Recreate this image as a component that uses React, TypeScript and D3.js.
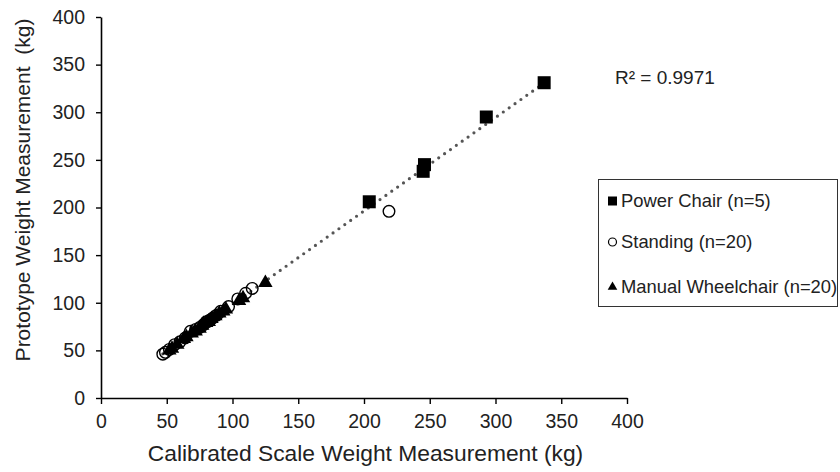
import React, { useEffect, useRef } from 'react';
import * as d3 from 'd3';

// Power Chair (n=5)
const powerX = [204, 245, 246, 293, 337];
const powerY = [206, 238, 245, 295, 331];

// Standing (n=20)
const standX = [47, 49, 52, 56, 60, 64, 68, 72, 75, 78, 80, 83, 85, 88, 91, 97, 104, 110, 115, 219];
const standY = [46, 48, 51, 56, 59, 63, 70, 72, 74, 77, 80, 82, 84, 87, 91, 96, 104, 110, 115, 196];

// Manual Wheelchair (n=20)
const manX = [52, 54, 58, 63, 65, 69, 72, 75, 77, 78, 80, 82, 84, 87, 90, 93, 95, 105, 108, 125];
const manY = [50, 52, 56, 62, 64, 68, 70, 73, 76, 78, 79, 80, 83, 86, 89, 91, 93, 102, 105, 121];

const xTicks = [0, 50, 100, 150, 200, 250, 300, 350, 400];
const yTicks = [0, 50, 100, 150, 200, 250, 300, 350, 400];

const legendLabels = ['Power Chair (n=5)', 'Standing (n=20)', 'Manual Wheelchair (n=20)'];
const r2Label = 'R² = 0.9971';

const font = '"Liberation Sans", Arial, sans-serif';

const App = () => {
  const svgRef = useRef(null);
  const width = 840;
  const height = 472;

  useEffect(() => {
    const svg = d3.select(svgRef.current);
    svg.selectAll('*').remove();

    const x = d3.scaleLinear().domain([0, 400]).range([101, 627]);
    const y = d3.scaleLinear().domain([0, 400]).range([398, 17]);

    // axes
    const xAxis = svg
      .append('g')
      .attr('transform', `translate(0,${y(0)})`)
      .call(d3.axisBottom(x).tickValues(xTicks).tickSize(6).tickSizeOuter(0).tickPadding(10));
    const yAxis = svg
      .append('g')
      .attr('transform', `translate(${x(0)},0)`)
      .call(d3.axisLeft(y).tickValues(yTicks).tickSize(5).tickSizeOuter(0).tickPadding(11));

    [xAxis, yAxis].forEach((a) => {
      a.select('.domain').attr('stroke', '#000').attr('stroke-width', 1.6);
      a.selectAll('.tick line').attr('stroke', '#000').attr('stroke-width', 1.4);
      a.selectAll('.tick text')
        .attr('fill', '#222')
        .style('font-family', font)
        .style('font-size', '19.5px');
    });

    // axis titles
    svg
      .append('text')
      .attr('x', 365.5)
      .attr('y', 461)
      .attr('text-anchor', 'middle')
      .attr('fill', '#222')
      .style('font-family', font)
      .style('font-size', '22.8px')
      .text('Calibrated Scale Weight Measurement (kg)');
    svg
      .append('text')
      .attr('transform', `translate(30,${190}) rotate(-90)`)
      .attr('text-anchor', 'middle')
      .attr('fill', '#222')
      .style('font-family', font)
      .style('font-size', '21px')
      .style('white-space', 'pre')
      .text('Prototype Weight Measurement  (kg)');

    // linear trendline through all points
    const allX = [...powerX, ...standX, ...manX];
    const allY = [...powerY, ...standY, ...manY];
    const mx = d3.mean(allX);
    const my = d3.mean(allY);
    const slope =
      d3.sum(allX, (v, i) => (v - mx) * (allY[i] - my)) / d3.sum(allX, (v) => (v - mx) * (v - mx));
    const icpt = my - slope * mx;
    const [x0, x1] = d3.extent(allX);
    svg
      .append('line')
      .attr('x1', x(x0))
      .attr('y1', y(icpt + slope * x0))
      .attr('x2', x(x1))
      .attr('y2', y(icpt + slope * x1))
      .attr('stroke', '#555')
      .attr('stroke-width', 3.2)
      .attr('stroke-linecap', 'round')
      .attr('stroke-dasharray', '0,7.2');

    // Standing circles
    svg
      .append('g')
      .selectAll('circle')
      .data(standX.map((v, i) => [v, standY[i]]))
      .join('circle')
      .attr('cx', (d) => x(d[0]))
      .attr('cy', (d) => y(d[1]))
      .attr('r', 5.8)
      .attr('fill', 'none')
      .attr('stroke', '#000')
      .attr('stroke-width', 1.4);

    // Manual wheelchair triangles
    const tri = d3.symbol().type(d3.symbolTriangle).size(90);
    svg
      .append('g')
      .selectAll('path')
      .data(manX.map((v, i) => [v, manY[i]]))
      .join('path')
      .attr('d', tri)
      .attr('transform', (d) => `translate(${x(d[0])},${y(d[1])})`)
      .attr('fill', '#000');

    // Power chair squares
    svg
      .append('g')
      .selectAll('rect')
      .data(powerX.map((v, i) => [v, powerY[i]]))
      .join('rect')
      .attr('x', (d) => x(d[0]) - 6.5)
      .attr('y', (d) => y(d[1]) - 6.5)
      .attr('width', 13)
      .attr('height', 13)
      .attr('fill', '#000');

    // R² label
    svg
      .append('text')
      .attr('x', 615)
      .attr('y', 83.5)
      .attr('fill', '#222')
      .style('font-family', font)
      .style('font-size', '19px')
      .text(r2Label);

    // legend
    const lg = svg.append('g');
    lg.append('rect')
      .attr('x', 598.5)
      .attr('y', 179.5)
      .attr('width', 239)
      .attr('height', 127)
      .attr('fill', '#fff')
      .attr('stroke', '#333')
      .attr('stroke-width', 1);
    const rows = [201, 242, 287];
    lg.append('rect').attr('x', 608).attr('y', rows[0] - 4.5).attr('width', 9).attr('height', 9).attr('fill', '#000');
    lg.append('circle')
      .attr('cx', 612.5)
      .attr('cy', rows[1])
      .attr('r', 4)
      .attr('fill', 'none')
      .attr('stroke', '#000')
      .attr('stroke-width', 1.2);
    lg.append('path')
      .attr('d', d3.symbol().type(d3.symbolTriangle).size(40))
      .attr('transform', `translate(612.5,${rows[2]})`)
      .attr('fill', '#000');
    lg.selectAll('text')
      .data(legendLabels)
      .join('text')
      .attr('x', 621)
      .attr('y', (d, i) => rows[i] + 5.5)
      .attr('fill', '#222')
      .style('font-family', font)
      .style('font-size', '18.4px')
      .text((d) => d);
  }, []);

  return (
    <svg
      ref={svgRef}
      width={width}
      height={height}
      style={{ position: 'absolute', left: 0, top: 0, background: '#fff' }}
    />
  );
};

export default App;
